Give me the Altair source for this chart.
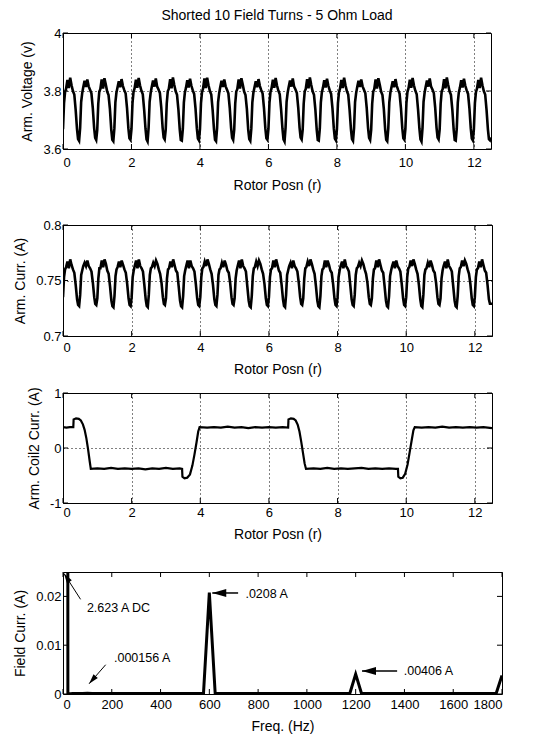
import altair as alt
import pandas as pd

FONT = "Liberation Sans"
TITLE = "Shorted 10 Field Turns - 5 Ohm Load"

# ---------------- data ----------------
# sample offsets (rotor units) inside each 0.5-wide ripple period
PHASE = [0.00, 0.03, 0.06, 0.09, 0.13, 0.17, 0.21, 0.25, 0.29, 0.33, 0.37, 0.41, 0.44, 0.47]

VOLT_CYCLES = [
    [3.668, 3.758, 3.796, 3.808, 3.838, 3.810, 3.846, 3.820, 3.800, 3.788, 3.735, 3.668, 3.634, 3.628],
    [3.672, 3.762, 3.792, 3.812, 3.835, 3.814, 3.840, 3.816, 3.804, 3.792, 3.742, 3.672, 3.638, 3.631],
    [3.666, 3.756, 3.798, 3.806, 3.840, 3.808, 3.844, 3.822, 3.798, 3.786, 3.738, 3.666, 3.632, 3.627],
    [3.671, 3.761, 3.794, 3.811, 3.834, 3.813, 3.841, 3.817, 3.803, 3.791, 3.741, 3.671, 3.637, 3.632],
    [3.669, 3.759, 3.797, 3.809, 3.839, 3.811, 3.845, 3.819, 3.801, 3.789, 3.736, 3.669, 3.633, 3.626],
    [3.673, 3.763, 3.793, 3.813, 3.836, 3.815, 3.843, 3.815, 3.805, 3.793, 3.743, 3.673, 3.639, 3.633],
    [3.667, 3.757, 3.799, 3.807, 3.841, 3.809, 3.847, 3.821, 3.799, 3.787, 3.737, 3.667, 3.631, 3.629],
    [3.670, 3.760, 3.795, 3.810, 3.837, 3.812, 3.842, 3.818, 3.802, 3.790, 3.740, 3.670, 3.636, 3.630],
    [3.668, 3.758, 3.796, 3.808, 3.843, 3.810, 3.846, 3.820, 3.800, 3.788, 3.735, 3.668, 3.632, 3.627],
    [3.672, 3.762, 3.792, 3.812, 3.835, 3.814, 3.840, 3.816, 3.804, 3.792, 3.742, 3.672, 3.638, 3.631],
    [3.666, 3.756, 3.798, 3.806, 3.840, 3.808, 3.844, 3.822, 3.798, 3.786, 3.738, 3.666, 3.634, 3.628],
    [3.671, 3.761, 3.794, 3.811, 3.834, 3.813, 3.841, 3.817, 3.803, 3.791, 3.741, 3.671, 3.637, 3.632],
    [3.669, 3.759, 3.797, 3.809, 3.839, 3.811, 3.845, 3.819, 3.801, 3.789, 3.736, 3.669, 3.633, 3.626],
    [3.673, 3.763, 3.793, 3.813, 3.836, 3.815, 3.843, 3.815, 3.805, 3.793, 3.743, 3.673, 3.639, 3.633],
    [3.667, 3.757, 3.799, 3.807, 3.841, 3.809, 3.847, 3.821, 3.799, 3.787, 3.737, 3.667, 3.631, 3.629],
    [3.670, 3.760, 3.795, 3.810, 3.837, 3.812, 3.842, 3.818, 3.802, 3.790, 3.740, 3.670, 3.636, 3.630],
    [3.668, 3.758, 3.796, 3.808, 3.838, 3.810, 3.846, 3.820, 3.800, 3.788, 3.735, 3.668, 3.634, 3.628],
    [3.672, 3.762, 3.792, 3.812, 3.835, 3.814, 3.840, 3.816, 3.804, 3.792, 3.742, 3.672, 3.638, 3.631],
    [3.666, 3.756, 3.798, 3.806, 3.840, 3.808, 3.844, 3.822, 3.798, 3.786, 3.738, 3.666, 3.632, 3.627],
    [3.671, 3.761, 3.794, 3.811, 3.834, 3.813, 3.841, 3.817, 3.803, 3.791, 3.741, 3.671, 3.637, 3.632],
    [3.669, 3.759, 3.797, 3.809, 3.839, 3.811, 3.845, 3.819, 3.801, 3.789, 3.736, 3.669, 3.633, 3.626],
    [3.673, 3.763, 3.793, 3.813, 3.836, 3.815, 3.843, 3.815, 3.805, 3.793, 3.743, 3.673, 3.639, 3.633],
    [3.667, 3.757, 3.799, 3.807, 3.841, 3.809, 3.847, 3.821, 3.799, 3.787, 3.737, 3.667, 3.631, 3.629],
    [3.670, 3.760, 3.795, 3.810, 3.837, 3.812, 3.842, 3.818, 3.802, 3.790, 3.740, 3.670, 3.636, 3.630],
    [3.668, 3.758, 3.796, 3.808, 3.838, 3.810, 3.846, 3.820, 3.800, 3.788, 3.735, 3.668, 3.634, 3.630],
]
VOLT_LAST = 3.640

CURR_CYCLES = [
    [0.735, 0.753, 0.760, 0.762, 0.767, 0.761, 0.769, 0.764, 0.760, 0.757, 0.746, 0.733, 0.728, 0.727],
    [0.737, 0.755, 0.759, 0.763, 0.766, 0.763, 0.768, 0.763, 0.761, 0.758, 0.748, 0.735, 0.729, 0.728],
    [0.734, 0.752, 0.761, 0.761, 0.768, 0.762, 0.769, 0.765, 0.759, 0.756, 0.745, 0.732, 0.727, 0.726],
    [0.736, 0.754, 0.760, 0.762, 0.767, 0.762, 0.768, 0.764, 0.760, 0.757, 0.747, 0.734, 0.728, 0.727],
    [0.735, 0.753, 0.759, 0.763, 0.768, 0.761, 0.769, 0.763, 0.761, 0.758, 0.746, 0.733, 0.727, 0.726],
    [0.737, 0.755, 0.761, 0.762, 0.766, 0.763, 0.768, 0.765, 0.760, 0.756, 0.748, 0.735, 0.729, 0.728],
    [0.734, 0.752, 0.760, 0.761, 0.767, 0.762, 0.769, 0.764, 0.759, 0.757, 0.745, 0.732, 0.727, 0.726],
    [0.736, 0.754, 0.759, 0.763, 0.768, 0.761, 0.768, 0.763, 0.761, 0.758, 0.747, 0.734, 0.728, 0.727],
    [0.735, 0.753, 0.761, 0.762, 0.767, 0.763, 0.769, 0.765, 0.760, 0.756, 0.746, 0.733, 0.728, 0.727],
    [0.737, 0.755, 0.760, 0.761, 0.766, 0.762, 0.768, 0.764, 0.759, 0.757, 0.748, 0.735, 0.729, 0.728],
    [0.734, 0.752, 0.759, 0.763, 0.768, 0.761, 0.769, 0.763, 0.761, 0.758, 0.745, 0.732, 0.727, 0.726],
    [0.736, 0.754, 0.761, 0.762, 0.767, 0.763, 0.768, 0.765, 0.760, 0.756, 0.747, 0.734, 0.728, 0.727],
    [0.735, 0.753, 0.760, 0.761, 0.768, 0.762, 0.769, 0.764, 0.759, 0.757, 0.746, 0.733, 0.727, 0.726],
    [0.737, 0.755, 0.759, 0.763, 0.766, 0.761, 0.768, 0.763, 0.761, 0.758, 0.748, 0.735, 0.729, 0.728],
    [0.734, 0.752, 0.761, 0.762, 0.767, 0.763, 0.769, 0.765, 0.760, 0.756, 0.745, 0.732, 0.727, 0.726],
    [0.736, 0.754, 0.760, 0.761, 0.768, 0.762, 0.768, 0.764, 0.759, 0.757, 0.747, 0.734, 0.728, 0.727],
    [0.735, 0.753, 0.759, 0.763, 0.767, 0.761, 0.769, 0.763, 0.761, 0.758, 0.746, 0.733, 0.728, 0.727],
    [0.737, 0.755, 0.761, 0.762, 0.766, 0.763, 0.768, 0.765, 0.760, 0.756, 0.748, 0.735, 0.729, 0.728],
    [0.734, 0.752, 0.760, 0.761, 0.768, 0.762, 0.769, 0.764, 0.759, 0.757, 0.745, 0.732, 0.727, 0.726],
    [0.736, 0.754, 0.759, 0.763, 0.767, 0.761, 0.768, 0.763, 0.761, 0.758, 0.747, 0.734, 0.728, 0.727],
    [0.735, 0.753, 0.761, 0.762, 0.768, 0.763, 0.769, 0.765, 0.760, 0.756, 0.746, 0.733, 0.727, 0.726],
    [0.737, 0.755, 0.760, 0.761, 0.766, 0.762, 0.768, 0.764, 0.759, 0.757, 0.748, 0.735, 0.729, 0.728],
    [0.734, 0.752, 0.759, 0.763, 0.767, 0.761, 0.769, 0.763, 0.761, 0.758, 0.745, 0.732, 0.727, 0.726],
    [0.736, 0.754, 0.761, 0.762, 0.768, 0.763, 0.768, 0.765, 0.760, 0.756, 0.747, 0.734, 0.728, 0.727],
    [0.735, 0.753, 0.760, 0.761, 0.767, 0.762, 0.769, 0.764, 0.759, 0.757, 0.746, 0.733, 0.729, 0.729],
]
CURR_LAST = 0.729

COIL_X = [0.00, 0.10, 0.20, 0.30, 0.31, 0.38, 0.46, 0.52, 0.58, 0.63, 0.68, 0.73, 0.78, 0.81,
          1.00, 1.20, 1.40, 1.60, 1.80, 2.00, 2.20, 2.40, 2.60, 2.80, 3.00, 3.20, 3.40,
          3.47, 3.48, 3.54, 3.62, 3.70, 3.77, 3.83, 3.89, 3.94, 3.98,
          4.20, 4.40, 4.60, 4.80, 5.00, 5.20, 5.40, 5.60, 5.80, 6.00, 6.20, 6.40,
          6.56, 6.57, 6.64, 6.72, 6.78, 6.84, 6.89, 6.94, 6.99, 7.04, 7.08,
          7.30, 7.50, 7.70, 7.90, 8.10, 8.30, 8.50, 8.70, 8.90, 9.10, 9.30, 9.50, 9.70,
          9.76, 9.77, 9.83, 9.90, 9.97, 10.04, 10.10, 10.16, 10.21, 10.25,
          10.45, 10.65, 10.85, 11.05, 11.25, 11.45, 11.65, 11.85, 12.05, 12.25, 12.50]
COIL_Y = [0.38, 0.37, 0.38, 0.38, 0.52, 0.54, 0.53, 0.50, 0.43, 0.33, 0.18, -0.02, -0.25, -0.38,
          -0.37, -0.38, -0.36, -0.38, -0.37, -0.38, -0.37, -0.39, -0.37, -0.38, -0.36, -0.38, -0.37,
          -0.38, -0.52, -0.55, -0.54, -0.48, -0.32, -0.12, 0.10, 0.30, 0.38,
          0.37, 0.38, 0.37, 0.39, 0.37, 0.38, 0.36, 0.38, 0.37, 0.38, 0.37, 0.38,
          0.37, 0.52, 0.54, 0.53, 0.50, 0.42, 0.30, 0.12, -0.08, -0.28, -0.38,
          -0.37, -0.38, -0.36, -0.38, -0.37, -0.38, -0.37, -0.36, -0.38, -0.37, -0.38, -0.37, -0.38,
          -0.38, -0.52, -0.55, -0.54, -0.47, -0.30, -0.08, 0.14, 0.32, 0.38,
          0.37, 0.38, 0.37, 0.39, 0.37, 0.38, 0.37, 0.38, 0.37, 0.38, 0.36]

FREQ_HZ = [0, 20, 40, 60, 80, 100, 120, 576, 600, 624, 1176, 1200, 1224, 1776, 1800]
FIELD_AMP = [2.623, 0.0, 0.0001, 0.0001, 0.0001, 0.000156, 0.0001, 0.0001, 0.0208, 0.0001,
             0.0001, 0.00406, 0.0001, 0.0001, 0.0038]

ROTOR_TICKS = [0, 2, 4, 6, 8, 10, 12]
VOLT_TICKS = [3.6, 3.8, 4.0]
CURR_TICKS = [0.7, 0.75, 0.8]
COIL_TICKS = [-1, 0, 1]
FREQ_TICKS = [0, 200, 400, 600, 800, 1000, 1200, 1400, 1600, 1800]
FIELD_TICKS = [0, 0.01, 0.02]

NOTE_TEXT = ["2.623 A DC", ".0208 A", ".000156 A", ".00406 A"]
NOTE_X = [98, 748, 209, 1397]
NOTE_Y = [0.0177, 0.0204, 0.0073, 0.0047]
ARROW_TAIL_X = [72, 718, 175, 1370]
ARROW_TAIL_Y = [0.0194, 0.0207, 0.0060, 0.0047]
ARROW_HEAD_X = [4, 612, 107, 1226]
ARROW_HEAD_Y = [0.0247, 0.0207, 0.0021, 0.0047]
ARROW_ANGLE = [327, 270, 221, 270]
ARROW_SIZE = [100, 196, 100, 196]
ARROW_WIDTH = [1, 1.5, 1, 1.5]

# ---------------- tables ----------------
def cycles_table(cycles, last):
    xs, ys = [], []
    for k, row in enumerate(cycles):
        for p, v in zip(PHASE, row):
            xs.append(0.5 * k + p)
            ys.append(v)
    xs.append(12.5)
    ys.append(last)
    return pd.DataFrame({"x": xs, "y": ys})

volt_df = cycles_table(VOLT_CYCLES, VOLT_LAST)
curr_df = cycles_table(CURR_CYCLES, CURR_LAST)
coil_df = pd.DataFrame({"x": COIL_X, "y": COIL_Y})
field_df = pd.DataFrame({"x": FREQ_HZ, "y": FIELD_AMP})

Y_LABEL = "datum.value < 0 ? '-' + format(-datum.value, '~g') : format(datum.value, '~g')"
X_LABEL = "format(datum.value, '~g')"


def panel(df, xdom, ydom, xticks, yticks, xtitle, ytitle, w, h, sw, grid,
          lpad, tpad, spacer=None, extra=None, title=None):
    xs = alt.Scale(domain=xdom, nice=False, zero=False)
    ys = alt.Scale(domain=ydom, nice=False, zero=False)
    xaxis = alt.Axis(title=xtitle, values=xticks, labelExpr=X_LABEL, grid=grid,
                     labelPadding=lpad, titlePadding=tpad)
    yaxis = alt.Axis(title=ytitle, values=yticks, labelExpr=Y_LABEL, grid=grid)
    line = alt.Chart(df).mark_line(color="black", strokeWidth=sw, clip=True).encode(
        x=alt.X("x:Q", scale=xs, axis=xaxis),
        y=alt.Y("y:Q", scale=ys, axis=yaxis),
    )
    xt = alt.Chart(pd.DataFrame({"x": xticks})).mark_rule(color="black", strokeWidth=1)
    yt = alt.Chart(pd.DataFrame({"y": yticks})).mark_rule(color="black", strokeWidth=1)
    layers = [
        line,
        xt.encode(x=alt.X("x:Q", scale=xs), y=alt.value(h), y2=alt.value(h - 5)),
        xt.encode(x=alt.X("x:Q", scale=xs), y=alt.value(0), y2=alt.value(5)),
        yt.encode(y=alt.Y("y:Q", scale=ys), x=alt.value(0), x2=alt.value(5)),
        yt.encode(y=alt.Y("y:Q", scale=ys), x=alt.value(w), x2=alt.value(w - 5)),
    ]
    if spacer is not None:
        layers.append(
            alt.Chart(pd.DataFrame({"s": [0]})).mark_rule(strokeOpacity=0, opacity=0).encode(
                x=alt.value(0), x2=alt.value(2), y=alt.value(-spacer), y2=alt.value(-spacer)))
    if extra:
        layers.extend(extra)
    ch = alt.layer(*layers).properties(width=w, height=h)
    if title is not None:
        ch = ch.properties(title=title)
    return ch


p1 = panel(volt_df, [0, 12.5], [3.6, 4.0], ROTOR_TICKS, VOLT_TICKS, "Rotor Posn (r)",
           "Arm. Voltage (v)", 428, 116, 2.6, True, 7, 9,
           title=alt.Title(TITLE, fontSize=14, font=FONT, fontWeight="normal",
                           anchor="middle", frame="group", offset=4, color="black"))
p2 = panel(curr_df, [0, 12.5], [0.7, 0.8], ROTOR_TICKS, CURR_TICKS, "Rotor Posn (r)",
           "Arm. Curr. (A)", 429, 111, 2.6, True, 5, 8, spacer=31)
p3 = panel(coil_df, [0, 12.5], [-1, 1], ROTOR_TICKS, COIL_TICKS, "Rotor Posn (r)",
           "Arm. Coil2 Curr. (A)", 429, 110, 2.2, True, 3, 8, spacer=15)

notes_df = pd.DataFrame({"x": NOTE_X, "y": NOTE_Y, "t": NOTE_TEXT})
arrows_df = pd.DataFrame({"x": ARROW_TAIL_X, "y": ARROW_TAIL_Y, "x2": ARROW_HEAD_X,
                          "y2": ARROW_HEAD_Y, "a": ARROW_ANGLE, "s": ARROW_SIZE,
                          "w": ARROW_WIDTH})
fx = alt.Scale(domain=[0, 1800], nice=False, zero=False)
fy = alt.Scale(domain=[0, 0.025], nice=False, zero=False)
notes = alt.Chart(notes_df).mark_text(align="left", baseline="middle", font=FONT,
                                      fontSize=12.5, color="black").encode(
    x=alt.X("x:Q", scale=fx), y=alt.Y("y:Q", scale=fy), text="t:N")
shafts = alt.Chart(arrows_df).mark_rule(color="black").encode(
    x=alt.X("x:Q", scale=fx), y=alt.Y("y:Q", scale=fy), x2="x2:Q", y2="y2:Q",
    strokeWidth=alt.StrokeWidth("w:Q", scale=None))
heads = alt.Chart(arrows_df).mark_point(
    shape="M0,0L0.57,2L-0.57,2Z", filled=True, color="black", opacity=1).encode(
    x=alt.X("x2:Q", scale=fx), y=alt.Y("y2:Q", scale=fy),
    angle=alt.Angle("a:Q", scale=None), size=alt.Size("s:Q", scale=None))

p4 = panel(field_df, [0, 1800], [0, 0.025], FREQ_TICKS, FIELD_TICKS, "Freq. (Hz)",
           "Field Curr. (A)", 439, 122, 3.0, False, 4, 8, spacer=29,
           extra=[shafts, heads, notes])

chart = alt.vconcat(p1, p2, p3, p4, spacing=0).properties(
    padding={"left": 5, "top": 0, "right": 0, "bottom": 0}
).configure_view(stroke="black", strokeWidth=1).configure_axis(
    labelFont=FONT, titleFont=FONT, labelFontSize=13, titleFontSize=14,
    labelColor="black", titleColor="black", titleFontWeight="normal",
    gridColor="black", gridDash=[1, 3], gridOpacity=1, gridWidth=1,
    domain=False, ticks=False, titlePadding=8,
)

chart.save("out.html", embed_options={"renderer": "svg", "actions": False})
